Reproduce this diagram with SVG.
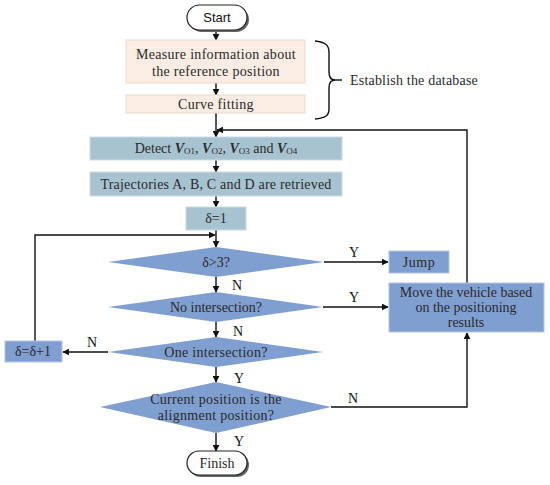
<svg xmlns="http://www.w3.org/2000/svg" width="550" height="485" viewBox="0 0 550 485">
<style>
  text { font-family: "Liberation Serif", "Times New Roman", serif; font-size: 14px; fill: #2a2a2a; }
  .lbl { fill: #111; }
  .sans { font-family: "Liberation Sans", Arial, sans-serif; font-size: 13px; fill: #111; }
  .peach { fill: #fbede3; stroke: #eadbd0; stroke-width: 1; }
  .steel { fill: #a8c3d0; stroke: #cbdbe3; stroke-width: 1; }
  .blue { fill: #809fd1; stroke: #b4c6e4; stroke-width: 1; }
  .dia { fill: #809fd1; stroke: none; }
  .pill { fill: #ffffff; stroke: #222; stroke-width: 1.2; }
  .shadow { fill: #666; }
  .line { fill: none; stroke: #111; stroke-width: 1.4; }
  .arr { fill: none; stroke: #111; stroke-width: 1.4; marker-end: url(#ah); }
</style>
<defs>
  <marker id="ah" viewBox="0 0 10 10" refX="9" refY="5" markerWidth="7" markerHeight="7" markerUnits="userSpaceOnUse" orient="auto">
    <path d="M0,0 L10,5 L0,10 z" fill="#111"/>
  </marker>
</defs>

<g id="connectors">
  <line class="arr" x1="216" y1="30" x2="216" y2="40"/>
  <line class="arr" x1="216" y1="83" x2="216" y2="95"/>
  <line class="arr" x1="216" y1="113" x2="216" y2="137"/>
  <polyline class="arr" points="467,283 467,130 217,130"/>
  <line class="arr" x1="216" y1="160" x2="216" y2="172"/>
  <line class="arr" x1="216" y1="196" x2="216" y2="207"/>
  <line class="arr" x1="216" y1="230" x2="216" y2="247"/>
  <polyline class="arr" points="35,341 35,235 215,235"/>
  <line class="arr" x1="324" y1="262" x2="388" y2="262"/>
  <line class="arr" x1="216" y1="277" x2="216" y2="292"/>
  <line class="arr" x1="323" y1="307" x2="388" y2="307"/>
  <line class="arr" x1="216" y1="322" x2="216" y2="337"/>
  <line class="arr" x1="108" y1="352" x2="63" y2="352"/>
  <line class="arr" x1="216" y1="367" x2="216" y2="382"/>
  <polyline class="arr" points="331,407 467,407 467,333"/>
  <line class="arr" x1="216" y1="433" x2="216" y2="451"/>
  <text class="lbl" x="354" y="257" text-anchor="middle">Y</text>
  <text class="lbl" x="354" y="302" text-anchor="middle">Y</text>
  <text class="lbl" x="237" y="290" text-anchor="middle">N</text>
  <text class="lbl" x="238" y="336" text-anchor="middle">N</text>
  <text class="lbl" x="92" y="347" text-anchor="middle">N</text>
  <text class="lbl" x="239" y="383" text-anchor="middle">Y</text>
  <text class="lbl" x="353" y="403" text-anchor="middle">N</text>
  <text class="lbl" x="239" y="446" text-anchor="middle">Y</text>
</g>

<g id="start">
  <rect class="shadow" x="189" y="7" width="60" height="25" rx="12.5"/>
  <rect class="pill" x="187" y="5" width="60" height="25" rx="12.5"/>
  <text class="sans" x="217" y="22" text-anchor="middle">Start</text>
</g>

<g id="measure">
  <rect class="peach" x="126" y="40" width="179" height="43"/>
  <text x="216" y="59" text-anchor="middle" letter-spacing="0.3">Measure information about</text>
  <text x="216" y="76" text-anchor="middle" letter-spacing="0.3">the reference position</text>
</g>

<g id="curve">
  <rect class="peach" x="126" y="95" width="179" height="18"/>
  <text x="216" y="109" text-anchor="middle" letter-spacing="0.3">Curve fitting</text>
</g>

<g id="database">
  <path class="line" d="M315,41 C325,42 329,45 329,52 L329,72 C329,78 331,80 335,80 C331,80 329,82 329,88 L329,109 C329,116 325,118 315,119" stroke-width="1.2"/>
  <line class="line" x1="333" y1="80" x2="342" y2="80" stroke-width="1.2"/>
  <text x="350" y="85" letter-spacing="0.2">Establish the database</text>
</g>

<g id="detect">
  <rect class="steel" x="90" y="137" width="252" height="23"/>
  <text x="216" y="153" text-anchor="middle">Detect <tspan font-style="italic" font-weight="bold">V</tspan><tspan font-size="9" dy="1">O1</tspan><tspan dy="-1">, </tspan><tspan font-style="italic" font-weight="bold">V</tspan><tspan font-size="9" dy="1">O2</tspan><tspan dy="-1">, </tspan><tspan font-style="italic" font-weight="bold">V</tspan><tspan font-size="9" dy="1">O3</tspan><tspan dy="-1"> and </tspan><tspan font-style="italic" font-weight="bold">V</tspan><tspan font-size="9" dy="1">O4</tspan></text>
</g>

<g id="trajectories">
  <rect class="steel" x="90" y="172" width="252" height="24"/>
  <text x="216" y="189" text-anchor="middle" letter-spacing="0.2">Trajectories A, B, C and D are retrieved</text>
</g>

<g id="delta1">
  <rect class="steel" x="186" y="207" width="60" height="23"/>
  <text x="216" y="223" text-anchor="middle">δ=1</text>
</g>

<g id="d1">
  <polygon class="dia" points="216,247 324,262 216,277 108,262"/>
  <text x="216" y="267" text-anchor="middle">δ&gt;3?</text>
</g>

<g id="jump">
  <rect class="blue" x="389" y="251" width="60" height="22"/>
  <text x="419" y="267" text-anchor="middle" letter-spacing="0.5">Jump</text>
</g>

<g id="d2">
  <polygon class="dia" points="216,292 323,307 216,322 108,307"/>
  <text x="216" y="312" text-anchor="middle">No intersection?</text>
</g>

<g id="move">
  <rect class="blue" x="389" y="283" width="155" height="49"/>
  <text x="466" y="297" text-anchor="middle">Move the vehicle based</text>
  <text x="466" y="312" text-anchor="middle">on the positioning</text>
  <text x="466" y="327" text-anchor="middle">results</text>
</g>

<g id="d3">
  <polygon class="dia" points="216,337 323,352 216,367 108,352"/>
  <text x="216" y="357" text-anchor="middle" letter-spacing="0.3">One intersection?</text>
</g>

<g id="delta_inc">
  <rect class="blue" x="5" y="341" width="57" height="21"/>
  <text x="33" y="356" text-anchor="middle">δ=δ+1</text>
</g>

<g id="d4">
  <polygon class="dia" points="216,382 331,407 216,433 100,407"/>
  <text x="216" y="404" text-anchor="middle" letter-spacing="0.3">Current position is the</text>
  <text x="216" y="420" text-anchor="middle" letter-spacing="0.3">alignment position?</text>
</g>

<g id="finish">
  <rect class="shadow" x="189" y="453" width="60" height="24" rx="12"/>
  <rect class="pill" x="187" y="451" width="60" height="24" rx="12"/>
  <text x="217" y="468" text-anchor="middle" font-size="13.5">Finish</text>
</g>
</svg>
